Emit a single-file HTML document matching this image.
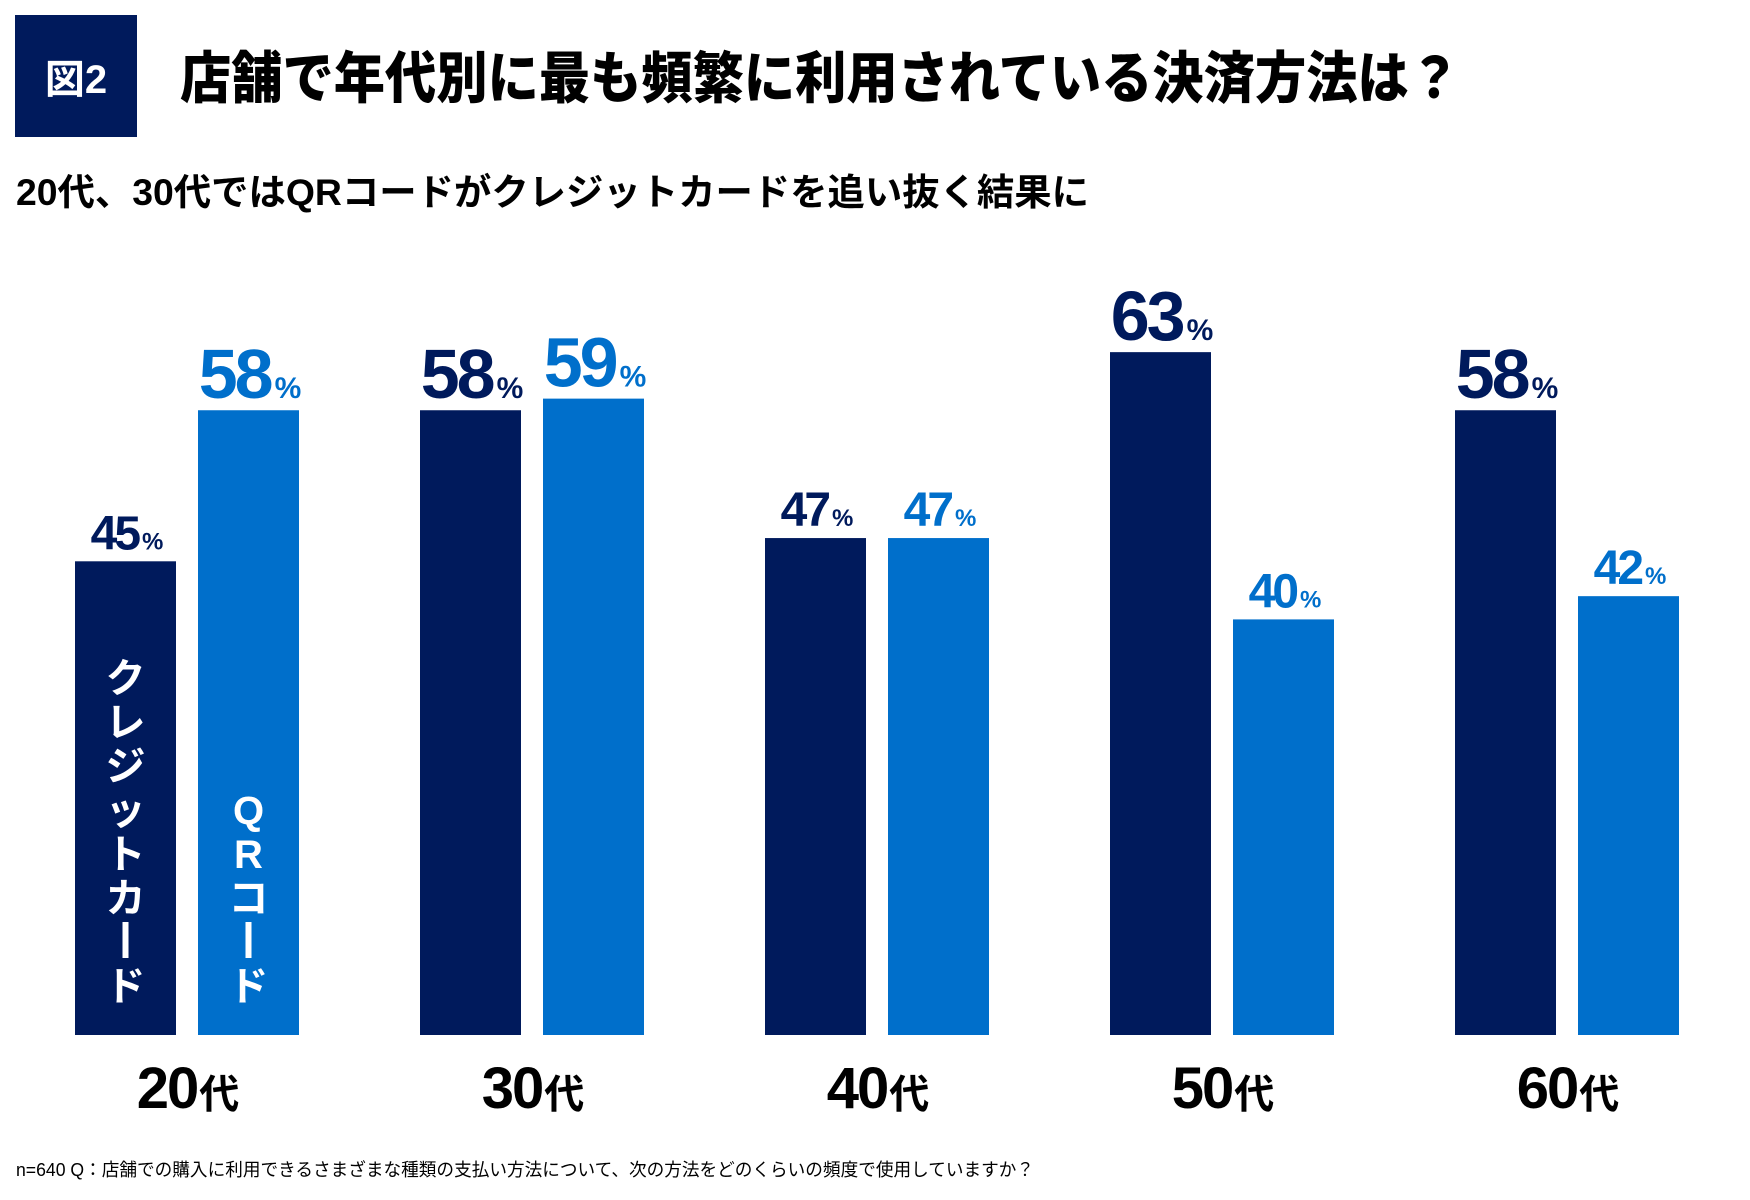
<!DOCTYPE html>
<html><head><meta charset="utf-8">
<style>
html,body{margin:0;padding:0;background:#fff;}
svg{display:block;}
text{font-family:"Liberation Sans","Noto Sans CJK JP",sans-serif;}
</style></head>
<body>
<svg id="chart" width="1750" height="1200" viewBox="0 0 1750 1200" xmlns="http://www.w3.org/2000/svg">
  <rect x="15" y="15" width="122" height="122" fill="#001a5c"/>
  <text x="76" y="93" fill="#fff" font-size="40" font-weight="bold" text-anchor="middle">図2</text>
  <text x="180" y="98" font-size="56" font-weight="900" fill="#000" textLength="1280" lengthAdjust="spacingAndGlyphs">店舗で年代別に最も頻繁に利用されている決済方法は？</text>
  <text x="16" y="205" font-size="37" font-weight="bold" fill="#000" textLength="1073" lengthAdjust="spacingAndGlyphs">20代、30代ではQRコードがクレジットカードを追い抜く結果に</text>
  <g id="bars"></g>
  <text x="16" y="1176" font-size="18" fill="#000" textLength="1018" lengthAdjust="spacingAndGlyphs">n=640 Q：店舗での購入に利用できるさまざまな種類の支払い方法について、次の方法をどのくらいの頻度で使用していますか？</text>
</svg>
<script>
const categories = ["20", "30", "40", "50", "60"];
const creditValues = [45, 58, 47, 63, 58];
const qrValues = [58, 59, 47, 40, 42];
const seriesNames = ["クレジットカード", "QRコード"];

const NS = "http://www.w3.org/2000/svg";
const g = document.getElementById("bars");
const baseY = 1035, barW = 101, groupStart = 75, groupStep = 345, innerGap = 123;
function yScale(v){ return baseY - (11.62 * v - 49.2); }
function xScale(i, s){ return groupStart + i * groupStep + s * innerGap; }
const colors = ["#001a5c", "#006fcb"];

function mk(tag, attrs){ const e = document.createElementNS(NS, tag); for (const k in attrs) e.setAttribute(k, attrs[k]); return e; }

[creditValues, qrValues].forEach((vals, s) => {
  vals.forEach((v, i) => {
    const x = xScale(i, s), y = yScale(v);
    const r = mk("rect", {x: x, y: y, width: barW, height: baseY - y, fill: colors[s]});
    
    
    g.appendChild(r);
    const big = v >= 55;
    const t = mk("text", {x: x + barW / 2, y: y - 12, fill: colors[s], "text-anchor": "middle", "font-weight": "bold", "font-size": big ? 70 : 48, "letter-spacing": "-3"});
    
    
    t.textContent = v;
    const p = mk("tspan", {"font-size": big ? 30 : 24, dx: "4"});
    p.textContent = "%";
    t.appendChild(p);
    g.appendChild(t);
  });
});

categories.forEach((c, i) => {
  const cx = xScale(i, 0) + (innerGap + barW) / 2;
  const t = mk("text", {x: cx, y: 1108, "text-anchor": "middle", "font-weight": "bold", "font-size": 58, fill: "#000", "letter-spacing": "-2"});
  
  
  t.textContent = c;
  const sp = mk("tspan", {"font-size": 40, dx: "2"});
  sp.textContent = "代";
  t.appendChild(sp);
  g.appendChild(t);
});

const vlabels = [["ク","レ","ジ","ッ","ト","カ","ー","ド"], ["Q","R","コ","ー","ド"]];
vlabels.forEach((chars, s) => {
  const cx = xScale(0, s) + barW / 2;
  const step = 44;
  const startY = 1000 - (chars.length - 1) * step;
  const grp = mk("g", {});
  
  
  chars.forEach((ch, k) => {
    if (ch === "ー") {
      const r = mk("rect", {x: cx - 3, y: startY + k * step - 34, width: 6, height: 36, fill: "#fff"});
      
      
      grp.appendChild(r);
      const tt = mk("text", {x: cx, y: startY + k * step, "text-anchor": "middle", "font-size": 1, fill: "#fff", opacity: "0"});
      
      
      tt.textContent = ch;
      grp.appendChild(tt);
    } else {
      const t = mk("text", {x: cx, y: startY + k * step, "text-anchor": "middle", "font-size": 40, "font-weight": "bold", fill: "#fff"});
      
      
      t.textContent = ch;
      grp.appendChild(t);
    }
  });
  g.appendChild(grp);
});
</script>
</body></html>
